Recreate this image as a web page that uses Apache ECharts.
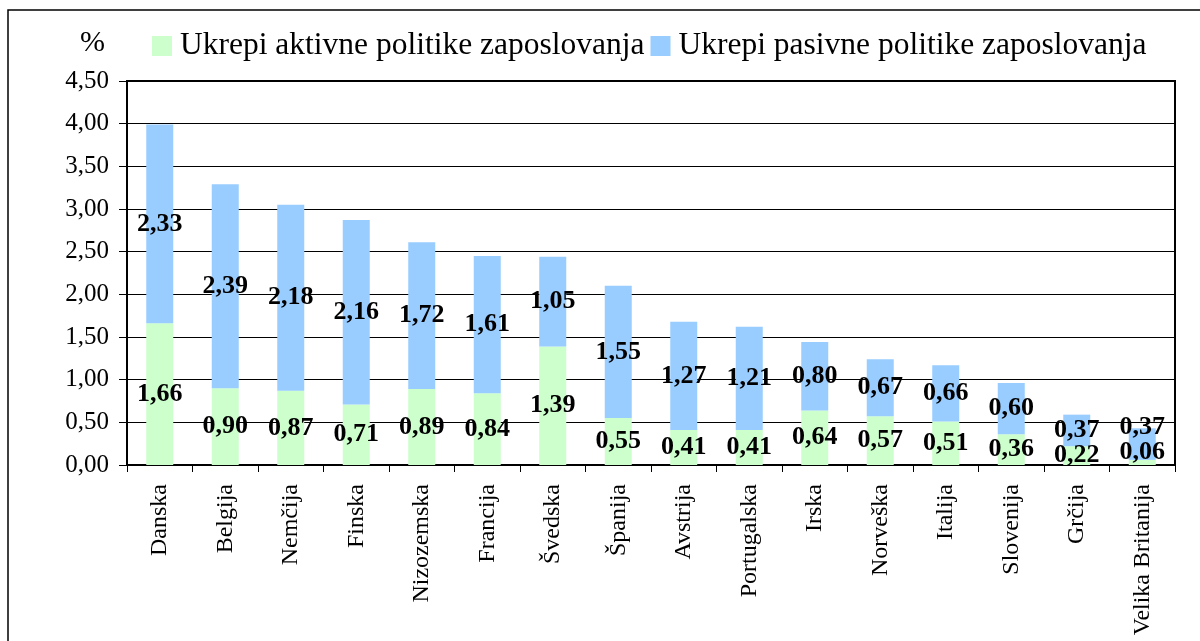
<!DOCTYPE html>
<html>
<head>
<meta charset="utf-8">
<script src="https://cdn.jsdelivr.net/npm/echarts@6/dist/echarts.min.js"></script>
<style>html,body{margin:0;padding:0;background:#fff}#c{width:1200px;height:641px}</style>
</head>
<body>
<div id="c"></div>
<script>
const categories = ['Danska','Belgija','Nemčija','Finska','Nizozemska','Francija','Švedska','Španija','Avstrija','Portugalska','Irska','Norveška','Italija','Slovenija','Grčija','Velika Britanija'];
const aktivne = [1.66,0.90,0.87,0.71,0.89,0.84,1.39,0.55,0.41,0.41,0.64,0.57,0.51,0.36,0.22,0.06];
const pasivne = [2.33,2.39,2.18,2.16,1.72,1.61,1.05,1.55,1.27,1.21,0.80,0.67,0.66,0.60,0.37,0.37];
const seriesNames = ['Ukrepi aktivne politike zaposlovanja','Ukrepi pasivne politike zaposlovanja'];

const fmt = v => Number(v).toFixed(2).replace('.', ',');
const FONT = '"Liberation Serif", "Times New Roman", serif';
const chart = echarts.init(document.getElementById('c'));
const labelStyle = {show:true, position:'inside', color:'#000', fontFamily:FONT, fontWeight:'bold', fontSize:26, formatter:p=>fmt(p.value)};
function mk(arr, offsets){
  return arr.map((v,i)=>offsets[i] ? {value:v, label:{offset:[0,offsets[i]]}} : v);
}
chart.setOption({
  animation:false,
  graphic:[
    {type:'rect', shape:{x:8,y:10,width:1200,height:700}, style:{fill:'none', stroke:'#000', lineWidth:1.5}, silent:true},
    {type:'text', left:80, top:28, style:{text:'%', font:'30px '+FONT, fill:'#000'}}
  ],
  legend:{left:147, top:25, itemWidth:20, itemHeight:20, itemGap:6, icon:'rect',
    textStyle:{fontFamily:FONT, fontSize:31.5, color:'#000', padding:[0,0,0,3]}, data:seriesNames},
  grid:{left:127, top:81, right:25, bottom:176, outerBoundsMode:'none', containLabel:false, show:true, borderColor:'#000', borderWidth:2, backgroundColor:'transparent'},
  xAxis:{type:'category', data:categories, boundaryGap:true,
    axisLine:{lineStyle:{color:'#000', width:2}},
    axisTick:{show:true, length:7, lineStyle:{color:'#000', width:1}, alignWithLabel:false},
    axisLabel:{rotate:90, interval:0, margin:19, color:'#000', fontFamily:FONT, fontSize:24}},
  yAxis:{type:'value', min:0, max:4.5, interval:0.5,
    axisLine:{show:true, lineStyle:{color:'#000', width:2}},
    axisTick:{show:true, length:8, lineStyle:{color:'#000'}},
    splitLine:{lineStyle:{color:'#000', width:1}},
    axisLabel:{margin:18, color:'#000', fontFamily:FONT, fontSize:25, formatter:v=>fmt(v)}},
  series:[
    {name:seriesNames[0], type:'bar', stack:'a', barWidth:27, itemStyle:{color:'#CCFFCC'}, label:labelStyle,
      data:mk(aktivne,{15:-10})},
    {name:seriesNames[1], type:'bar', stack:'a', barWidth:27, itemStyle:{color:'#99CCFF'}, label:labelStyle,
      data:mk(pasivne,{15:-17})}
  ]
});
</script>
</body>
</html>
